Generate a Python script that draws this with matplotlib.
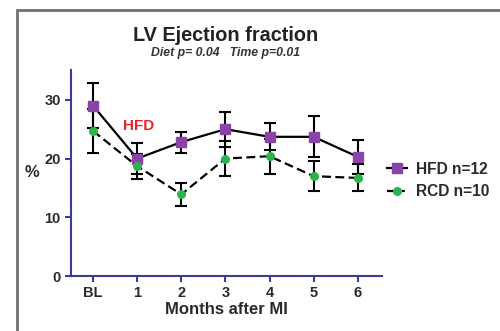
import numpy as np
import matplotlib.pyplot as plt
from matplotlib.patches import Rectangle
from matplotlib.lines import Line2D

plt.rcParams['font.family'] = ['Liberation Sans', 'DejaVu Sans']

months = ['BL', '1', '2', '3', '4', '5', '6']
hfd = [29.0, 20.0, 22.8, 25.0, 23.7, 23.7, 20.3]
hfd_err = [3.8, 2.6, 1.8, 3.0, 2.3, 3.5, 2.9]
rcd = [24.7, 18.7, 13.9, 20.0, 20.4, 17.0, 16.7]
rcd_err = [3.7, 2.1, 2.0, 3.0, 3.0, 2.5, 2.3]

x = np.arange(len(months))
axis_col = '#3b3b9a'
text_col = '#2a2a2a'
purple = '#8a44a8'
green = '#2db34a'

fig = plt.figure(figsize=(5, 3.31), dpi=100)
ax = fig.add_axes([0.142, 0.166, 0.622, 0.623])

ax.errorbar(x, hfd, yerr=hfd_err, color='black', lw=1.6, ecolor='black',
            elinewidth=1.5, capsize=4, capthick=1.5, marker='s', ms=7,
            mfc=purple, mec=purple, zorder=3)
ax.errorbar(x, rcd, yerr=rcd_err, color='black', lw=1.6, ls=(0, (4, 2)),
            ecolor='black', elinewidth=1.5, capsize=4, capthick=1.5,
            marker='o', ms=5.5, mfc=green, mec=green, zorder=3)

ax.set_xlim(-0.5, 6.55)
ax.set_ylim(0, 35.1)
ax.set_xticks(x)
ax.set_xticklabels(months)
ax.set_yticks([0, 10, 20, 30])
for s in ['top', 'right']:
    ax.spines[s].set_visible(False)
for s in ['left', 'bottom']:
    ax.spines[s].set_color(axis_col)
    ax.spines[s].set_linewidth(1.5)
ax.tick_params(colors=axis_col, width=1.5, length=4, labelcolor=text_col,
               labelsize=10.5)
for lab in ax.get_xticklabels() + ax.get_yticklabels():
    lab.set_fontweight('bold')

ax.set_xlabel('Months after MI', fontsize=12, fontweight='bold',
              color=text_col, labelpad=1)
fig.text(0.064, 0.48, '%', fontsize=12, fontweight='bold', color=text_col,
         ha='center', va='center')

fig.text(0.452, 0.893, 'LV Ejection fraction', fontsize=14.3,
         fontweight='bold', color='#222222', ha='center', va='center')
fig.text(0.452, 0.84, 'Diet p= 0.04   Time p=0.01', fontsize=8.8,
         fontweight='bold', style='italic', color='#333333',
         ha='center', va='center')

ax.text(0.67, 25.6, 'HFD', color='#e8232a', fontsize=11,
        fontweight='bold', va='center', ha='left')

handles = [Line2D([], [], color='black', lw=1.6, marker='s', ms=7,
                  mfc=purple, mec=purple),
           Line2D([], [], color='black', lw=1.6, ls=(0, (3, 2)), marker='o',
                  ms=5.5, mfc=green, mec=green)]
leg = fig.legend(handles, ['HFD n=12', 'RCD n=10'], loc='center left',
                 bbox_to_anchor=(0.745, 0.455), frameon=False,
                 handlelength=1.3, handletextpad=0.6, labelspacing=0.5,
                 prop={'weight': 'bold', 'size': 11.2})
for t in leg.get_texts():
    t.set_color(text_col)

fig.patches.append(Rectangle((0.034, -0.2), 1.2, 1.17, transform=fig.transFigure,
                             fill=False, ec='#707070', lw=2))

fig.savefig('out.png', dpi=100)
